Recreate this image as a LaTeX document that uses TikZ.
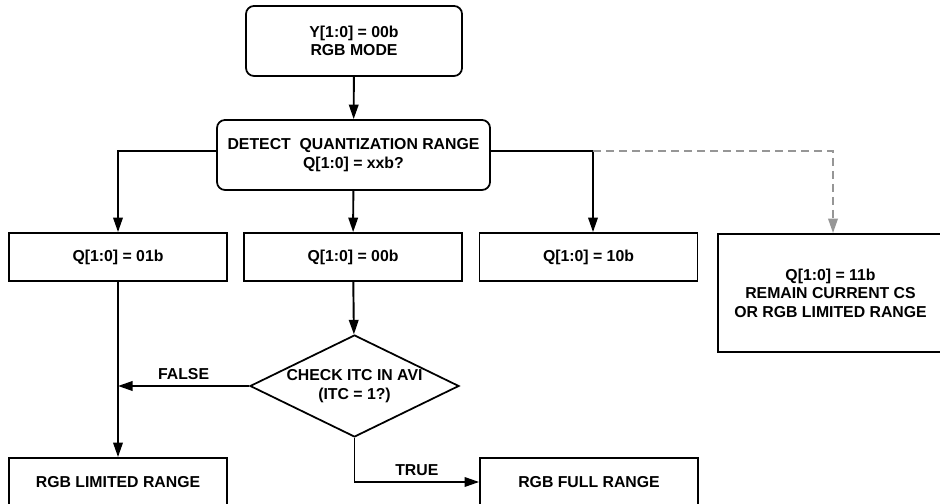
\documentclass[tikz,border=0pt]{standalone}
\usepackage{fontspec}
\setmainfont{Liberation Sans}
\usetikzlibrary{shapes.geometric, arrows.meta}
\definecolor{mygray}{RGB}{150,150,150}

\tikzset{
    txt/.style={font=\fontsize{9}{10.5}\selectfont\bfseries},
    box/.style={txt, draw, line width=1pt, align=center, minimum width=4.36cm, minimum height=0.96cm},
    rbox/.style={box, rounded corners=1.6mm, minimum height=1.4cm},
    decision/.style={txt, draw, diamond, line width=1pt, align=center, aspect=2.05, inner sep=0pt, minimum width=4.18cm, minimum height=2.04cm},
    flow/.style={line width=1.1pt, -{Triangle[length=2.9mm, width=1.9mm]}},
    optflow/.style={flow, mygray, dashed, dash pattern=on 1.6mm off 1mm}
}

\begin{document}
\begin{tikzpicture}

\useasboundingbox (0, 0) rectangle (18.8, 10.08);

% Start and detection.
\draw (7.08, 9.26) node[rbox, minimum width=4.32cm] (mode) {Y[1:0] = 00b\\RGB MODE};
\draw (7.07, 6.98) node[rbox, minimum width=5.46cm] (detect) {DETECT\ \ QUANTIZATION RANGE\\Q[1:0] = xxb?};

% Quantization cases.
\draw (2.36, 4.94) node[box] (q01) {Q[1:0] = 01b};
\draw (7.06, 4.94) node[box] (q00) {Q[1:0] = 00b};
\draw (11.77, 4.94) node[box] (q10) {Q[1:0] = 10b};
\draw (16.61, 4.22) node[box, minimum width=4.5cm, minimum height=2.36cm] (q11) {Q[1:0] = 11b\\REMAIN CURRENT CS\\OR RGB LIMITED RANGE};

% ITC check and results.
\draw (7.09, 2.36) node[decision] (itc) {CHECK ITC IN AVI\\(ITC = 1?)};
\draw (2.36, 0.44) node[box] (limited) {RGB LIMITED RANGE};
\draw (11.78, 0.44) node[box] (full) {RGB FULL RANGE};

% Connections.
\coordinate (dl) at ([yshift=0.08cm]detect.west);
\coordinate (dr) at ([yshift=0.08cm]detect.east);
\coordinate (q10in) at ([xshift=0.09cm]q10.north);
\draw[flow] (mode) -- (detect);
\draw[flow] (dl) -| (q01.north);
\draw[flow] (detect) -- (q00);
\draw[flow] (dr) -| (q10in);
\draw[optflow] (dr -| q10in) -| ([xshift=0.05cm]q11.north);
\draw[flow] (q00) -- (itc);
\draw[flow] (q01) -- (limited);
\draw[flow] (itc.west) -- (q01.south |- itc.west) node[txt, midway, above] {FALSE};
\draw[flow] (itc.south) |- (full.west) node[txt, pos=0.75, above] {TRUE};

\end{tikzpicture}
\end{document}
